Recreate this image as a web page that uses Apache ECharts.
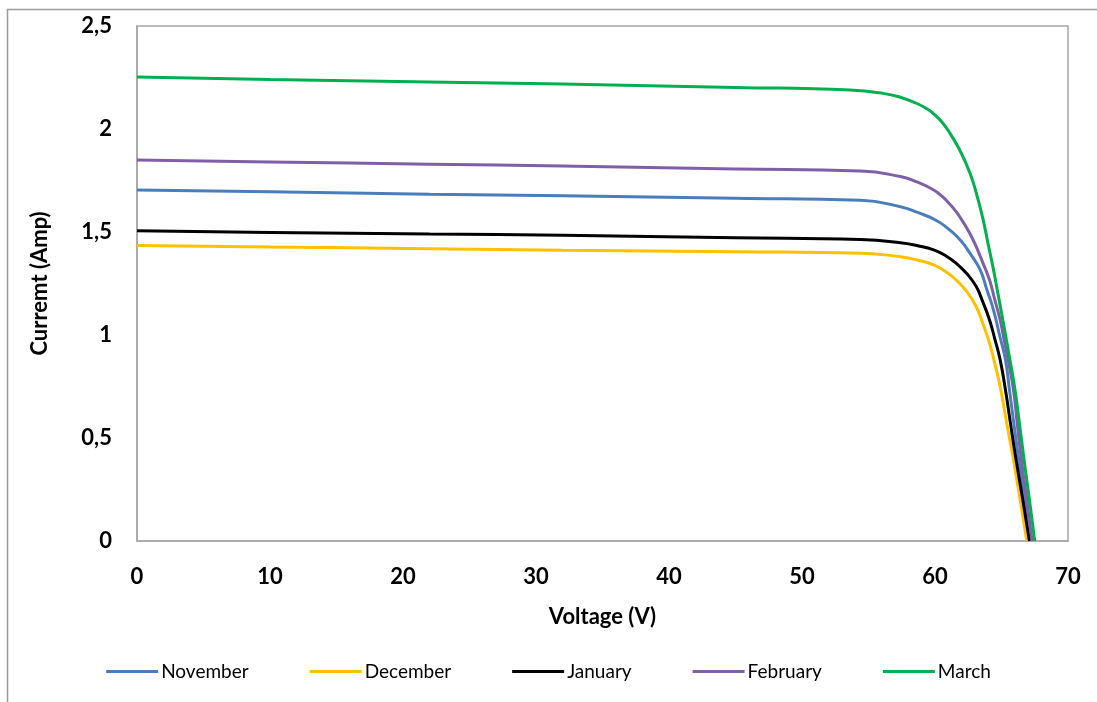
<!DOCTYPE html>
<html>
<head>
<meta charset="utf-8">
<script src="https://cdn.jsdelivr.net/npm/echarts@6/dist/echarts.min.js"></script>
<style>
html,body{margin:0;padding:0;background:#fff;}
#c{width:1097px;height:702px;}
</style>
</head>
<body>
<div id="c"></div>
<script>
// Voltage (V), Current (A) pairs
const november = [[0,1.704],[10,1.695],[22,1.683],[32,1.676],[45,1.664],[54.4,1.654],[57.4,1.623],[58.7,1.595],[60.1,1.556],[61.0,1.515],[61.9,1.461],[62.7,1.39],[63.4,1.316],[63.9,1.22],[64.4,1.121],[64.85,1.0],[65.3,0.879],[65.6,0.733],[65.95,0.56],[66.3,0.393],[66.75,0.2],[67.2,0]];
const december = [[0,1.435],[10,1.427],[22,1.419],[32,1.411],[45,1.404],[54.4,1.397],[57.4,1.380],[58.7,1.363],[59.9,1.340],[60.8,1.308],[61.6,1.267],[62.4,1.21],[63.1,1.137],[63.6,1.055],[64.1,0.960],[64.5,0.86],[64.9,0.749],[65.4,0.57],[65.9,0.393],[66.4,0.2],[66.9,0]];
const january = [[0,1.506],[10,1.498],[22,1.490],[32,1.484],[45,1.472],[54.4,1.463],[57.4,1.448],[58.7,1.433],[59.9,1.413],[60.8,1.385],[61.6,1.348],[62.4,1.297],[63.1,1.235],[63.6,1.16],[64.1,1.073],[64.5,0.98],[64.9,0.879],[65.3,0.733],[65.7,0.56],[66.1,0.393],[66.6,0.2],[67.1,0]];
const february = [[0,1.850],[10,1.840],[22,1.829],[32,1.820],[45,1.806],[54.4,1.796],[57.4,1.769],[58.7,1.742],[59.9,1.704],[60.5,1.675],[61.1,1.636],[61.6,1.598],[62.0,1.560],[62.4,1.518],[62.8,1.47],[63.1,1.429],[63.6,1.35],[64.1,1.267],[64.5,1.17],[64.9,1.073],[65.2,0.975],[65.5,0.879],[65.9,0.733],[66.2,0.56],[66.5,0.393],[66.9,0.2],[67.3,0]];
const march = [[0,2.252],[10,2.240],[22,2.228],[32,2.218],[45,2.202],[53.6,2.189],[56.1,2.173],[57.5,2.152],[58.6,2.125],[59.4,2.098],[59.9,2.074],[60.5,2.035],[61.1,1.982],[61.8,1.905],[62.4,1.822],[62.8,1.755],[63.1,1.690],[63.6,1.565],[64.0,1.440],[64.4,1.316],[64.75,1.195],[65.1,1.073],[65.55,0.91],[66.0,0.741],[66.35,0.57],[66.7,0.393],[67.1,0.2],[67.5,0]];

const seriesNames = ['November','December','January','February','March'];
const seriesData = [november, december, january, february, march];
const seriesColors = ['#4a7ebb','#ffc000','#000000','#7f60a8','#00b050'];

const xTicks = {min:0, max:70, interval:10};
const yTicks = {min:0, max:2.5, interval:0.5};

const chart = echarts.init(document.getElementById('c'), null, {renderer:'canvas'});
const FONT = 'Lato, "Open Sans", "DejaVu Sans", sans-serif';

chart.setOption({
  animation:false,
  backgroundColor:'#fff',
  graphic:[{
    type:'polyline',
    shape:{points:[[7.5,720],[7.5,9.5],[1100,9.5]]},
    style:{stroke:'#9a9a9a',lineWidth:1.5,fill:null},
    silent:true
  }],
  grid:{left:137,right:29,top:26,bottom:161,show:true,borderColor:'#a6a6a6',borderWidth:1.5,backgroundColor:'#fff'},
  legend:{
    bottom:16, left:'center',
    itemWidth:52, itemHeight:3, itemGap:61,
    icon:'rect',
    textStyle:{fontFamily:FONT,fontSize:19,color:'#000',padding:[0,0,0,-2]},
    data:seriesNames.map((n,i)=>({name:n,itemStyle:{color:seriesColors[i]}}))
  },
  xAxis:{
    type:'value', min:xTicks.min, max:xTicks.max, interval:xTicks.interval,
    name:'Voltage (V)', nameLocation:'middle', nameGap:65,
    nameTextStyle:{fontFamily:FONT,fontSize:22,fontWeight:'bold',color:'#000'},
    axisLine:{show:true,lineStyle:{color:'#a6a6a6',width:1.5}},
    axisTick:{show:false},
    splitLine:{show:false},
    axisLabel:{margin:25,fontFamily:FONT,fontSize:22,fontWeight:'bold',color:'#000'}
  },
  yAxis:{
    type:'value', min:yTicks.min, max:yTicks.max, interval:yTicks.interval,
    name:'Curremt (Amp)', nameLocation:'middle', nameGap:86, nameRotate:90,
    nameTextStyle:{fontFamily:FONT,fontSize:22,fontWeight:'bold',color:'#000'},
    axisLine:{show:true,lineStyle:{color:'#a6a6a6',width:1.5}},
    axisTick:{show:false},
    splitLine:{show:false},
    axisLabel:{margin:25,fontFamily:FONT,fontSize:22,fontWeight:'bold',color:'#000',
      formatter:v=>String(v).replace('.',',')}
  },
  series:seriesData.map((d,i)=>({
    name:seriesNames[i], type:'line', data:d, showSymbol:false,
    smooth:0.5,
    lineStyle:{color:seriesColors[i],width:3},
    itemStyle:{color:seriesColors[i]},
    z:2+i
  }))
});
</script>
</body>
</html>
